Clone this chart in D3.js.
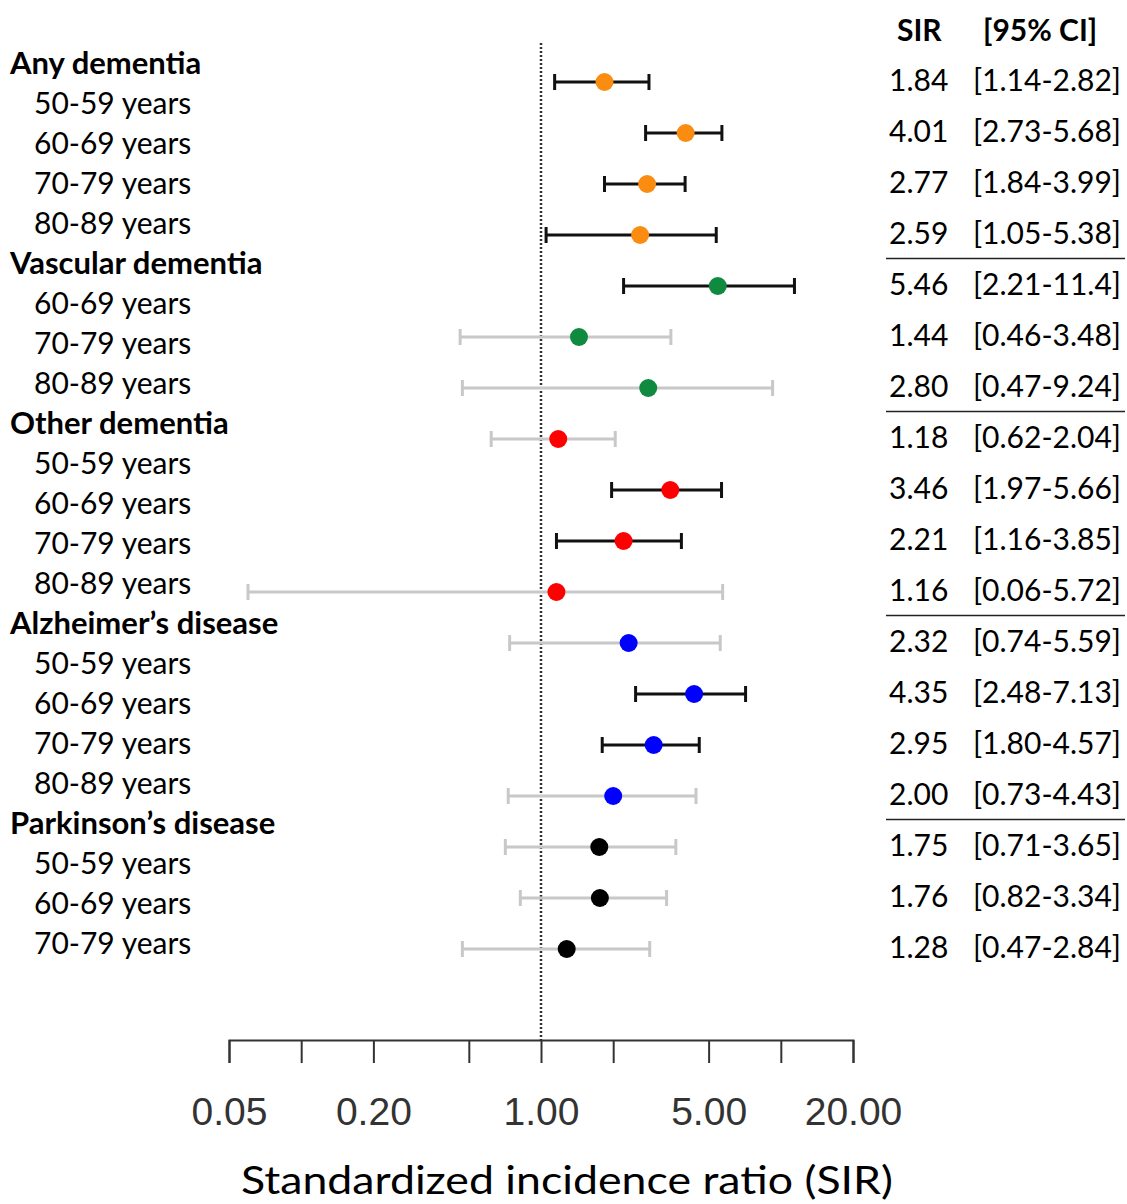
<!DOCTYPE html>
<html>
<head>
<meta charset="utf-8">
<script src="https://cdn.jsdelivr.net/npm/d3@7"></script>
<style>
  body { margin: 0; background: #fff; }
  svg { display: block; }
</style>
</head>
<body>
<div id="chart"></div>
<script>
const groups = ['Any dementia', 'Vascular dementia', 'Other dementia', 'Alzheimer’s disease', 'Parkinson’s disease']
const groupAges = [
  ['50-59 years', '60-69 years', '70-79 years', '80-89 years'],
  ['60-69 years', '70-79 years', '80-89 years'],
  ['50-59 years', '60-69 years', '70-79 years', '80-89 years'],
  ['50-59 years', '60-69 years', '70-79 years', '80-89 years'],
  ['50-59 years', '60-69 years', '70-79 years']
]
const groupColors = ['#fb8c12', '#0f8a3e', '#ff0000', '#0000ff', '#000000']

const sirValues = [1.84, 4.01, 2.77, 2.59, 5.46, 1.44, 2.80, 1.18, 3.46, 2.21, 1.16, 2.32, 4.35, 2.95, 2.00, 1.75, 1.76, 1.28]
const ciLower = [1.14, 2.73, 1.84, 1.05, 2.21, 0.46, 0.47, 0.62, 1.97, 1.16, 0.06, 0.74, 2.48, 1.80, 0.73, 0.71, 0.82, 0.47]
const ciUpper = [2.82, 5.68, 3.99, 5.38, 11.4, 3.48, 9.24, 2.04, 5.66, 3.85, 5.72, 5.59, 7.13, 4.57, 4.43, 3.65, 3.34, 2.84]

const tickValues = [0.05, 0.1, 0.2, 0.5, 1, 2, 5, 10, 20]
const tickLabels = [0.05, 0.2, 1, 5, 20]

const W = 1127
const H = 1204

// flatten rows
const rows = []
groups.forEach((g, gi) => {
  groupAges[gi].forEach((age) => rows.push({ group: gi, age }))
})
rows.forEach((r, i) => {
  r.sir = sirValues[i]
  r.lo = ciLower[i]
  r.hi = ciUpper[i]
  r.id = i
  r.sig = ciLower[i] > 1
})

// left labels: header then ages
const labels = []
groups.forEach((g, gi) => {
  labels.push({ text: g, bold: true })
  groupAges[gi].forEach((age) => labels.push({ text: age, bold: false }))
})

const svg = d3.select('#chart')
  .append('svg')
  .attr('width', W)
  .attr('height', H)

const x = d3.scaleLog()
  .domain([0.05, 20])
  .range([229, 853])

const y = d3.scalePoint()
  .domain(rows.map((d) => d.id))
  .range([82, 949])

const yLabel = d3.scalePoint()
  .domain(d3.range(labels.length))
  .range([63, 943])

const textFont = 'Lato, "Open Sans", sans-serif'

// left labels
svg.append('g')
  .selectAll('text')
  .data(labels)
  .join('text')
  .attr('x', (d) => d.bold ? 10 : 34)
  .attr('y', (d, i) => yLabel(i))
  .attr('dy', '0.35em')
  .style('font-family', textFont)
  .style('font-size', (d) => d.bold ? '31px' : '30px')
  .style('font-weight', (d) => d.bold ? 700 : 400)
  .style('fill', '#000')
  .text((d) => d.text)

// reference line at 1
svg.append('line')
  .attr('x1', x(1)).attr('x2', x(1))
  .attr('y1', 43).attr('y2', 1040)
  .style('stroke', '#333')
  .style('stroke-width', 2.5)
  .style('stroke-dasharray', '2,2')

// error bars
const bars = svg.append('g')
  .selectAll('g')
  .data(rows)
  .join('g')
  .style('stroke', (d) => d.sig ? '#111' : '#c8c8c8')
  .style('stroke-width', 3)

bars.append('line')
  .attr('x1', (d) => x(d.lo))
  .attr('x2', (d) => x(d.hi))
  .attr('y1', (d) => y(d.id))
  .attr('y2', (d) => y(d.id))

bars.append('line')
  .attr('x1', (d) => x(d.lo))
  .attr('x2', (d) => x(d.lo))
  .attr('y1', (d) => y(d.id) - 8)
  .attr('y2', (d) => y(d.id) + 8)

bars.append('line')
  .attr('x1', (d) => x(d.hi))
  .attr('x2', (d) => x(d.hi))
  .attr('y1', (d) => y(d.id) - 8)
  .attr('y2', (d) => y(d.id) + 8)

// points
svg.append('g')
  .selectAll('circle')
  .data(rows)
  .join('circle')
  .attr('cx', (d) => x(d.sir))
  .attr('cy', (d) => y(d.id))
  .attr('r', 9)
  .style('fill', (d) => groupColors[d.group])

// axis
const axis = d3.axisBottom(x)
  .tickValues(tickValues)
  .tickSize(23)
  .tickSizeOuter(23)
  .tickPadding(34)
  .tickFormat((d) => tickLabels.includes(d) ? d3.format('.2f')(d) : '')

const ax = svg.append('g')
  .attr('transform', 'translate(0,1040)')
  .call(axis)

ax.select('.domain').style('stroke', '#333').style('stroke-width', 2)
ax.selectAll('.tick line').style('stroke', '#333').style('stroke-width', 2)
ax.selectAll('.tick text')
  .style('font-family', '"Liberation Sans", Arial, sans-serif')
  .style('font-size', '39px')
  .style('fill', '#333')

// x title
svg.append('text')
  .attr('x', 567)
  .attr('y', 1180)
  .attr('dy', '0.35em')
  .attr('text-anchor', 'middle')
  .attr('textLength', 652)
  .attr('lengthAdjust', 'spacingAndGlyphs')
  .style('font-family', textFont)
  .style('font-size', '39px')
  .style('fill', '#000')
  .text('Standardized incidence ratio (SIR)')

// table header
svg.append('text')
  .attr('x', 897).attr('y', 30).attr('dy', '0.35em')
  .style('font-family', textFont).style('font-size', '30px').style('font-weight', 700)
  .text('SIR')
svg.append('text')
  .attr('x', 983).attr('y', 30).attr('dy', '0.35em')
  .style('font-family', textFont).style('font-size', '30px').style('font-weight', 700)
  .text('[95% CI]')

// table values
const table = svg.append('g')
table.selectAll('text.sir')
  .data(rows)
  .join('text')
  .attr('class', 'sir')
  .attr('x', 889)
  .attr('y', (d) => y(d.id) - 2)
  .attr('dy', '0.35em')
  .style('font-family', textFont)
  .style('font-size', '30px')
  .text((d) => d3.format('.2f')(d.sir))

table.selectAll('text.ci')
  .data(rows)
  .join('text')
  .attr('class', 'ci')
  .attr('x', 1121)
  .attr('y', (d) => y(d.id) - 2)
  .attr('dy', '0.35em')
  .attr('text-anchor', 'end')
  .style('font-family', textFont)
  .style('font-size', '30px')
  .text((d) => '[' + d3.format('.2f')(d.lo) + '-' + (d.hi >= 10 ? d3.format('.1f')(d.hi) : d3.format('.2f')(d.hi)) + ']')

// group separators in table
const groupEnds = []
let acc = 0
groupAges.forEach((a) => { acc += a.length; groupEnds.push(acc - 1) })
table.selectAll('line')
  .data(groupEnds.slice(0, -1))
  .join('line')
  .attr('x1', 886)
  .attr('x2', 1125)
  .attr('y1', (d) => (y(d) + y(d + 1)) / 2 - 2)
  .attr('y2', (d) => (y(d) + y(d + 1)) / 2 - 2)
  .style('stroke', '#222')
  .style('stroke-width', 1.5)
</script>
</body>
</html>
